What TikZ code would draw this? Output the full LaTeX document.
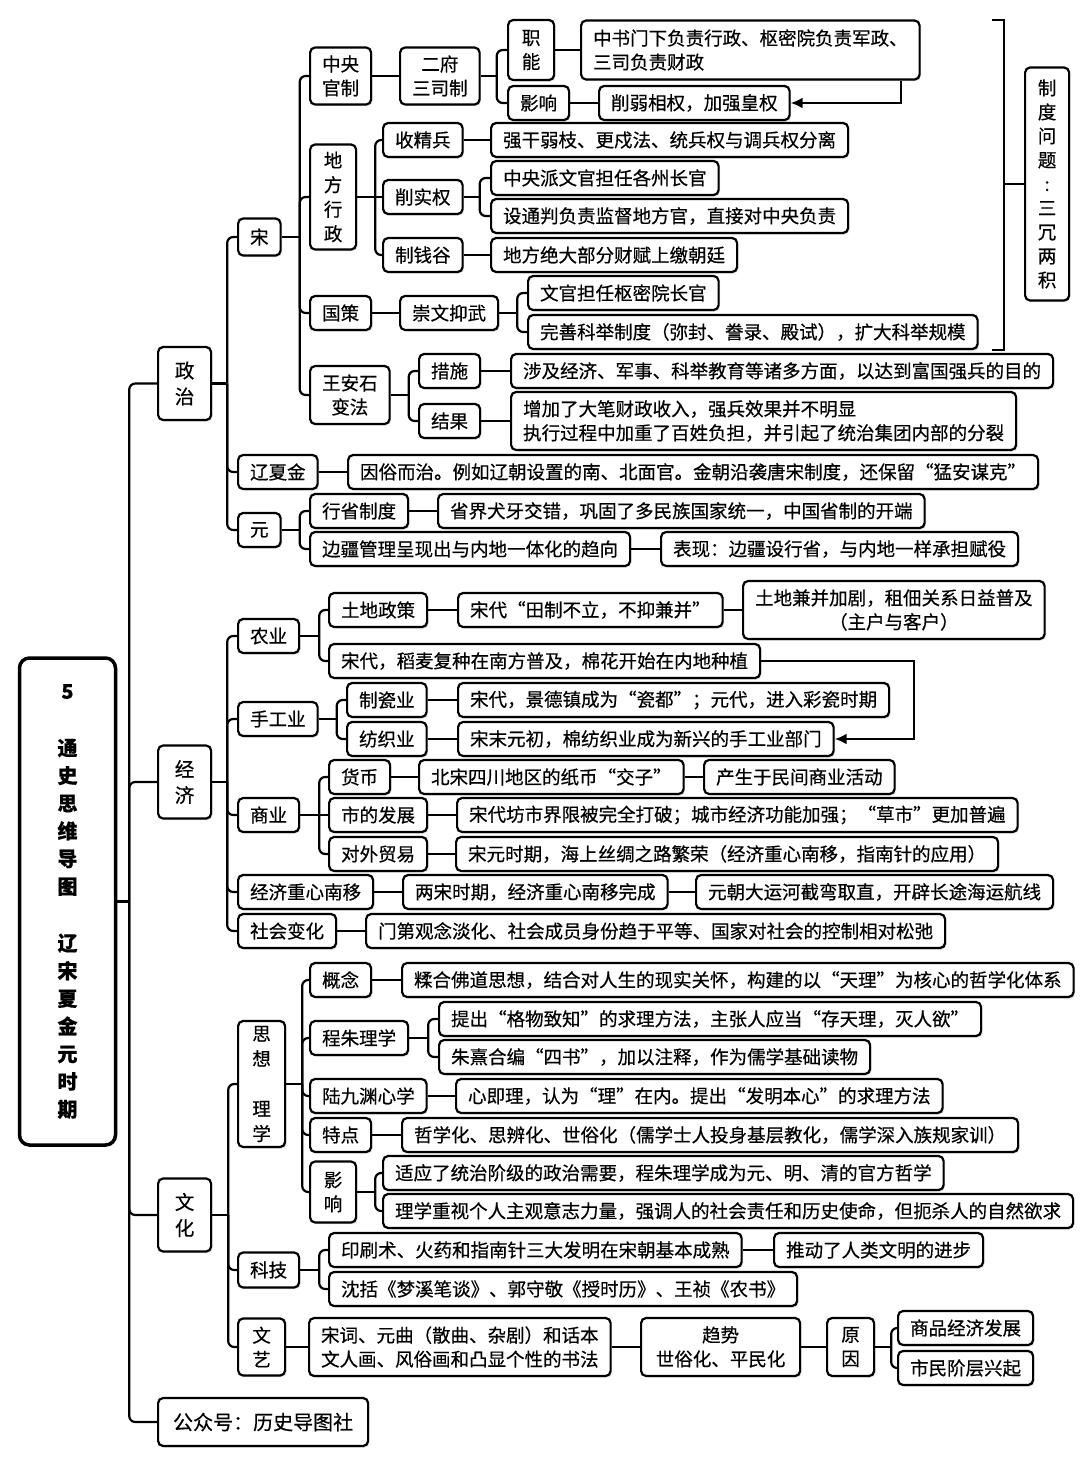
\documentclass[tikz,border=0pt]{standalone}
\usepackage{fontspec}
\setmainfont{Noto Sans CJK SC}[FakeBold=0.5]
\usetikzlibrary{arrows.meta, shadows}

\newcommand{\fork}[3]{%
  \draw[link] (#1.east) -- ++(#2,0) coordinate (#1-t);
  \foreach \k in {#3}{\draw[link, rounded corners=6pt] (#1-t) |- (\k.west);}
}

\begin{document}
\begin{tikzpicture}[x=1pt, y=-1pt,
    font=\fontsize{18.5}{24}\selectfont,
    box/.style={rectangle, draw, line width=2.2pt, rounded corners=5pt, fill=white, anchor=west, align=center, minimum height=34pt, inner xsep=12pt, inner ysep=3pt, drop shadow={shadow xshift=1.5pt, shadow yshift=-1.5pt, opacity=0.25}},
    vbox/.style={box, inner xsep=2pt, font=\fontsize{18.5}{24.5}\selectfont},
    mainbox/.style={box, inner xsep=2pt, minimum width=53pt, minimum height=73pt, font=\fontsize{19.5}{26}\selectfont},
    link/.style={draw, line width=2.2pt},
    arr/.style={link, -{Latex[length=12pt, width=11pt]}}]

    \useasboundingbox (0,0) rectangle (1080,1465);
    \fill[white] (0,0) rectangle (1080,1465);

    \node[box, anchor=center, line width=3.5pt, rounded corners=10pt, minimum width=96pt, minimum height=487pt, font=\bfseries\fontsize{20}{27.7}\selectfont] (root) at (67.5,901.5) {5\\[29pt]通\\史\\思\\维\\导\\图\\[29pt]辽\\宋\\夏\\金\\元\\时\\期};

    \node[mainbox] (zz) at (157,383.5) {政\\治};
    \node[mainbox] (jj) at (157,782) {经\\济};
    \node[mainbox] (wh) at (157,1215) {文\\化};
    \node[box, minimum height=48pt, inner xsep=15pt, font=\fontsize{20}{24}\selectfont] (gzh) at (157,1422) {公众号：历史导图社};

    \node[box, minimum height=37pt] (song) at (237,237) {宋};
    \node[box] (lxj) at (237,472) {辽夏金};
    \node[box] (yuan) at (237,530) {元};

    \node[box, minimum height=57pt] (zygz) at (309,76) {中央\\官制};
    \node[vbox, minimum width=46pt, minimum height=105pt] (dfxz) at (309,197) {地\\方\\行\\政};
    \node[box] (gc) at (309,313) {国策};
    \node[box, minimum height=58pt] (was) at (309,395) {王安石\\变法};

    \node[box, minimum height=57pt] (efsz) at (399,76) {二府\\三司制};
    \node[vbox, minimum width=46pt, minimum height=60pt, font=\fontsize{18.5}{24}\selectfont] (zn) at (507,50) {职\\能};
    \node[box] (yx) at (507,103) {影响};
    \node[box, align=left, minimum height=59pt] (zs) at (580,50) {中书门下负责行政、枢密院负责军政、\\三司负责财政};
    \node[box] (xr) at (598,103) {削弱相权，加强皇权};

    \node[box] (sjb) at (382,140) {收精兵};
    \node[box] (ssq) at (382,197) {削实权};
    \node[box] (zqg) at (382,255) {制钱谷};
    \node[box] (qg) at (490,140) {强干弱枝、更戍法、统兵权与调兵权分离};
    \node[box] (zyp) at (490,178) {中央派文官担任各州长官};
    \node[box] (stp) at (490,216) {设通判负责监督地方官，直接对中央负责};
    \node[box] (dfjd) at (490,255) {地方绝大部分财赋上缴朝廷};

    \node[box] (cwyw) at (399,313) {崇文抑武};
    \node[box] (wgdr) at (527,293) {文官担任枢密院长官};
    \node[box] (wskj) at (527,332) {完善科举制度（弥封、誊录、殿试），扩大科举规模};

    \node[box] (cs) at (418,371) {措施};
    \node[box] (jg) at (418,421) {结果};
    \node[box] (sj) at (510,371) {涉及经济、军事、科举教育等诸多方面，以达到富国强兵的目的};
    \node[box, align=left, minimum height=58pt] (zj) at (510,421) {增加了大笔财政收入，强兵效果并不明显\\执行过程中加重了百姓负担，并引起了统治集团内部的分裂};

    \node[box] (ys) at (347,472) {因俗而治。例如辽朝设置的南、北面官。金朝沿袭唐宋制度，还保留“猛安谋克”};
    \node[box] (xszd) at (309,511) {行省制度};
    \node[box] (bjgl) at (309,549) {边疆管理呈现出与内地一体化的趋向};
    \node[box] (sjqy) at (437,511) {省界犬牙交错，巩固了多民族国家统一，中国省制的开端};
    \node[box] (bx) at (660,549) {表现：边疆设行省，与内地一样承担赋役};

    \node[vbox, minimum width=44pt, minimum height=233pt, font=\fontsize{18.5}{24}\selectfont] (zdwt) at (1024,184) {制\\度\\问\\题\\:\\三\\冗\\两\\积};

    \node[box] (ny) at (237,636) {农业};
    \node[box] (sgy) at (237,719) {手工业};
    \node[box] (sy) at (237,815) {商业};
    \node[box] (zxny) at (237,892) {经济重心南移};
    \node[box] (shbh) at (237,931) {社会变化};

    \node[box] (tdzc) at (328,610) {土地政策};
    \node[box] (dmfz) at (328,661) {宋代，稻麦复种在南方普及，棉花开始在内地种植};
    \node[box] (tzbl) at (457,610) {宋代“田制不立，不抑兼并”};
    \node[box, minimum height=58pt] (tdjb) at (742,610) {土地兼并加剧，租佃关系日益普及\\（主户与客户）};

    \node[box] (zcy) at (346,700) {制瓷业};
    \node[box] (fzy) at (346,739) {纺织业};
    \node[box] (jdz) at (457,700) {宋代，景德镇成为“瓷都”；元代，进入彩瓷时期};
    \node[box] (mfz) at (457,739) {宋末元初，棉纺织业成为新兴的手工业部门};

    \node[box] (hb) at (328,777) {货币};
    \node[box] (sdfz) at (328,815) {市的发展};
    \node[box] (dwmy) at (328,854) {对外贸易};
    \node[box] (jz) at (418,777) {北宋四川地区的纸币“交子”};
    \node[box] (csy) at (703,777) {产生于民间商业活动};
    \node[box] (fs) at (456,815) {宋代坊市界限被完全打破；城市经济功能加强；“草市”更加普遍};
    \node[box] (hssc) at (455,854) {宋元时期，海上丝绸之路繁荣（经济重心南移，指南针的应用）};
    \node[box] (lsw) at (402,892) {两宋时期，经济重心南移完成};
    \node[box] (ydyh) at (695,892) {元朝大运河截弯取直，开辟长途海运航线};
    \node[box] (mdgn) at (365,931) {门第观念淡化、社会成员身份趋于平等、国家对社会的控制相对松弛};

    \node[vbox, minimum width=47pt, minimum height=126pt, font=\fontsize{18.5}{25}\selectfont] (sxlx) at (237,1084) {思\\想\\[25pt]理\\学};
    \node[box, minimum height=35pt] (kj) at (237,1270) {科技};
    \node[vbox, minimum width=47pt, minimum height=57pt, font=\fontsize{18.5}{24}\selectfont] (wy) at (237,1347) {文\\艺};

    \node[box] (gn) at (309,980) {概念};
    \node[box] (czlx) at (309,1038) {程朱理学};
    \node[box] (ljy) at (309,1096) {陆九渊心学};
    \node[box] (td) at (309,1135) {特点};
    \node[vbox, minimum width=46pt, minimum height=61pt, font=\fontsize{18.5}{24}\selectfont] (yx2) at (309,1192) {影\\响};
    \node[box] (rh) at (401,980) {糅合佛道思想，结合对人生的现实关怀，构建的以“天理”为核心的哲学化体系};
    \node[box] (tc) at (438,1019) {提出“格物致知”的求理方法，主张人应当“存天理，灭人欲”};
    \node[box] (zx) at (438,1057) {朱熹合编“四书”，加以注释，作为儒学基础读物};
    \node[box] (xjl) at (455,1096) {心即理，认为“理”在内。提出“发明本心”的求理方法};
    \node[box] (zxh) at (401,1135) {哲学化、思辨化、世俗化（儒学士人投身基层教化，儒学深入族规家训）};
    \node[box] (sy2) at (382,1173) {适应了统治阶级的政治需要，程朱理学成为元、明、清的官方哲学};
    \node[box] (lxzs) at (382,1211) {理学重视个人主观意志力量，强调人的社会责任和历史使命，但扼杀人的自然欲求};

    \node[box] (ysz) at (328,1250) {印刷术、火药和指南针三大发明在宋朝基本成熟};
    \node[box] (sk) at (328,1289) {沈括《梦溪笔谈》、郭守敬《授时历》、王祯《农书》};
    \node[box] (tdrl) at (773,1250) {推动了人类文明的进步};

    \node[box, align=left, minimum height=58pt] (scyq) at (308,1347) {宋词、元曲（散曲、杂剧）和话本\\文人画、风俗画和凸显个性的书法};
    \node[box, minimum width=159pt, minimum height=58pt] (qs) at (640,1347) {趋势\\世俗化、平民化};
    \node[vbox, minimum width=47pt, minimum height=58pt, font=\fontsize{18.5}{24}\selectfont] (yy) at (826,1347) {原\\因};
    \node[box] (spjj) at (897,1328) {商品经济发展};
    \node[box] (smjc) at (897,1368) {市民阶层兴起};

    \fork{root}{12}{zz,jj,wh,gzh}
    \fork{zz}{15}{song,lxj,yuan}
    \fork{song}{18}{zygz,dfxz,gc,was}
    \draw[link] (zygz) -- (efsz);
    \fork{efsz}{16}{zn,yx}
    \draw[link] (zn) -- (zs);
    \draw[link] (yx) -- (xr);
    \draw[arr] ([xshift=-20pt]zs.south east) |- (xr.east);
    \fork{dfxz}{18}{sjb,zqg}
    \draw[link] (dfxz) -- (ssq);
    \draw[link] (sjb) -- (qg);
    \fork{ssq}{16}{zyp,stp}
    \draw[link] (zqg) -- (dfjd);
    \draw[link] (gc) -- (cwyw);
    \fork{cwyw}{18}{wgdr,wskj}
    \fork{was}{18}{cs,jg}
    \draw[link] (cs) -- (sj);
    \draw[link] (jg) -- (zj);
    \draw[link] (lxj) -- (ys);
    \fork{yuan}{18}{xszd,bjgl}
    \draw[link] (xszd) -- (sjqy);
    \draw[link] (bjgl) -- (bx);

    \coordinate (brtop) at (992,20);
    \coordinate (brbot) at (992,350);
    \draw[link] (brtop) -- ++(12,0) |- (brbot);
    \draw[link] (zdwt.west) -- ++(-20,0);

    \fork{jj}{15}{ny,sgy,sy,zxny,shbh}
    \fork{ny}{19}{tdzc,dmfz}
    \draw[link] (tdzc) -- (tzbl);
    \draw[link] (tzbl) -- (tdjb);
    \draw[arr] (dmfz.east) -- ++(153,0) |- (mfz.east);
    \fork{sgy}{18}{zcy,fzy}
    \draw[link] (zcy) -- (jdz);
    \draw[link] (fzy) -- (mfz);
    \fork{sy}{19}{hb,dwmy}
    \draw[link] (sy) -- (sdfz);
    \draw[link] (hb) -- (jz);
    \draw[link] (jz) -- (csy);
    \draw[link] (sdfz) -- (fs);
    \draw[link] (dwmy) -- (hssc);
    \draw[link] (zxny) -- (lsw);
    \draw[link] (lsw) -- (ydyh);
    \draw[link] (shbh) -- (mdgn);

    \fork{wh}{16}{sxlx,kj,wy}
    \fork{sxlx}{16}{gn,czlx,ljy,td,yx2}
    \draw[link] (gn) -- (rh);
    \fork{czlx}{19}{tc,zx}
    \draw[link] (ljy) -- (xjl);
    \draw[link] (td) -- (zxh);
    \fork{yx2}{18}{sy2,lxzs}
    \fork{kj}{19}{ysz,sk}
    \draw[link] (ysz) -- (tdrl);
    \draw[link] (wy) -- (scyq);
    \draw[link] (scyq) -- (qs);
    \draw[link] (qs) -- (yy);
    \fork{yy}{16}{spjj,smjc}
\end{tikzpicture}
\end{document}
